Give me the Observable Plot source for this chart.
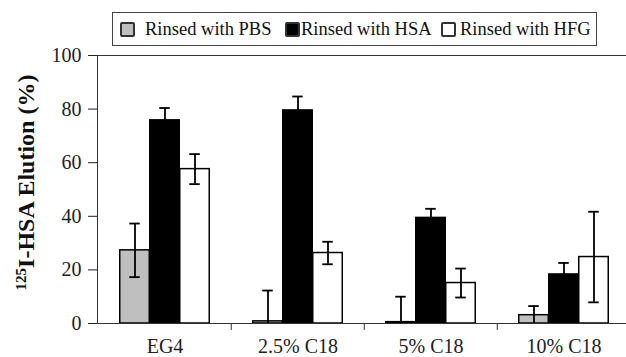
<!DOCTYPE html>
<html>
<head>
<meta charset="utf-8">
<script src="https://cdn.jsdelivr.net/npm/d3@7"></script>
<script src="https://cdn.jsdelivr.net/npm/@observablehq/plot@0.6"></script>
<style>
html, body { margin: 0; padding: 0; background: #fff; overflow: hidden; }
#wrap { position: relative; width: 626px; height: 357px; font-family: "Liberation Serif", "DejaVu Serif", serif; color: #111; }
#legend { position: absolute; left: 112px; top: 12px; width: 485px; height: 34px; box-sizing: border-box; border: 1px solid #444; background: #fff; }
#legend .sw { position: absolute; top: 9px; width: 15px; height: 15px; box-sizing: border-box; border: 2px solid #333; border-radius: 2px; }
#legend .lb { position: absolute; top: 5px; font-size: 18.5px; line-height: 22px; white-space: nowrap; }
</style>
</head>
<body>
<div id="wrap"><div id="legend"></div></div>
<script>
const categories = ["EG4", "2.5% C18", "5% C18", "10% C18"];
const seriesNames = ["Rinsed with PBS", "Rinsed with HSA", "Rinsed with HFG"];
const pbsValues = [27.3, 0.8, 0.5, 3.1];
const pbsErrors = [10.0, 11.5, 9.5, 3.4];
const hsaValues = [75.8, 79.5, 39.4, 18.3];
const hsaErrors = [4.6, 5.2, 3.4, 4.3];
const hfgValues = [57.6, 26.3, 15.1, 24.8];
const hfgErrors = [5.6, 4.2, 5.4, 16.9];
const yTicks = [0, 20, 40, 60, 80, 100];
const yTitleSup = "125";
const yTitleMain = "I-HSA Elution (%)";

const seriesFill = ["#bfbfbf", "#000000", "#ffffff"];
const seriesValues = [pbsValues, hsaValues, hfgValues];
const seriesErrors = [pbsErrors, hsaErrors, hfgErrors];

const rows = [];
seriesNames.forEach((s, k) => {
  categories.forEach((c, i) => {
    const v = seriesValues[k][i], e = seriesErrors[k][i];
    rows.push({cat: c, series: s, k, value: v, lo: Math.max(0, v - e), hi: v + e});
  });
});

const barW = 30;
const band = (626 + 5 - 97) / categories.length;
const barInset = (band - barW) / 2;
const capInset = (band - 11) / 2;

const marks = [];
seriesNames.forEach((s, k) => {
  const d = rows.filter(r => r.k === k);
  const dx = (k - 1) * barW;
  marks.push(Plot.barY(d, {x: "cat", y1: 0, y2: "value", fill: seriesFill[k], stroke: "#000", strokeWidth: 1.5, insetLeft: barInset, insetRight: barInset, dx}));
});
seriesNames.forEach((s, k) => {
  const d = rows.filter(r => r.k === k);
  const dx = (k - 1) * barW;
  marks.push(Plot.ruleX(d, {x: "cat", y1: "lo", y2: "hi", stroke: "#000", strokeWidth: 1.8, dx}));
  marks.push(Plot.tickY(d, {x: "cat", y: "hi", stroke: "#000", strokeWidth: 1.8, insetLeft: capInset, insetRight: capInset, dx}));
  marks.push(Plot.tickY(d.filter(r => r.lo > 0), {x: "cat", y: "lo", stroke: "#000", strokeWidth: 1.8, insetLeft: capInset, insetRight: capInset, dx}));
});
marks.push(Plot.ruleX(categories.slice(1), {x: d => d, y1: 0, y2: -2.6, stroke: "#333", strokeWidth: 1, dx: -band / 2}));
marks.push(Plot.frame({stroke: "#333", strokeWidth: 1}));
marks.push(Plot.text([yTitleSup + yTitleMain], {text: d => d, frameAnchor: "left", textAnchor: "middle", lineAnchor: "middle", rotate: -90, dx: -71, dy: -7, fontSize: 24, fontWeight: "bold", fill: "#111"}));

const chart = Plot.plot({
  width: 626,
  height: 357,
  marginLeft: 97,
  marginRight: -5,
  marginTop: 55,
  marginBottom: 34,
  style: {fontFamily: "'Liberation Serif', 'DejaVu Serif', serif", fontSize: "20px", color: "#222", background: "#fff", overflow: "hidden"},
  x: {domain: categories, padding: 0, tickSize: 0, tickPadding: 15, label: null},
  y: {domain: [0, 100], ticks: yTicks, tickSize: 9, tickPadding: 7, label: null},
  marks
});
document.getElementById("wrap").insertBefore(chart, document.getElementById("legend"));

d3.select(chart).selectAll("text").each(function() {
  if (this.textContent === yTitleSup + yTitleMain) {
    const t = d3.select(this);
    t.text(null);
    t.append("tspan").attr("font-size", 15).attr("dy", "-8").text(yTitleSup);
    t.append("tspan").attr("dy", "8").text(yTitleMain);
  }
});

const lg = d3.select("#legend");
const swLeft = [7, 172, 328];
const lbLeft = [32, 188, 347];
seriesNames.forEach((s, k) => {
  lg.append("div").attr("class", "sw").style("left", swLeft[k] + "px").style("background", seriesFill[k]);
  lg.append("div").attr("class", "lb").style("left", lbLeft[k] + "px").text(s);
});
</script>
</body>
</html>
